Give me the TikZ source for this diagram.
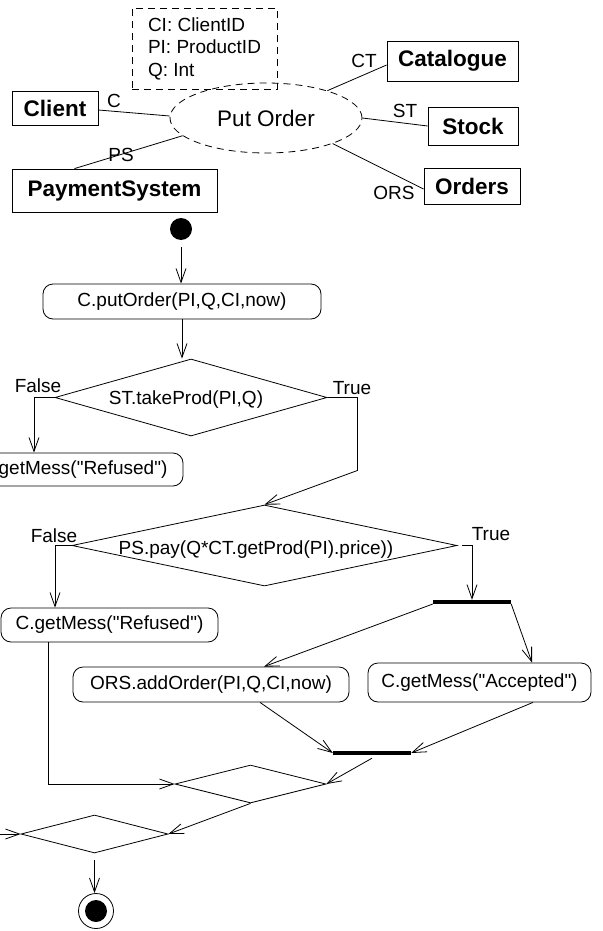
\documentclass[tikz,border=0pt]{standalone}
\usepackage{fontspec}
\setmainfont{Liberation Sans}[Ligatures=TeXOff]
\usetikzlibrary{shapes.geometric,arrows.meta}
\tikzset{
 ln/.style={line width=0.8pt},
 arr/.style={ln, -{Straight Barb[length=14pt,width=10pt,line width=0.8pt]}},
 nf/.style={font=\fontsize{19}{22.5}\selectfont},
 bf/.style={font=\fontsize{22.5}{26}\selectfont\bfseries},
 cls/.style={draw, ln, rectangle, inner sep=0pt, bf},
 act/.style={draw, ln, rectangle, rounded corners=10pt, inner sep=0pt, nf},
 dec/.style={draw, ln, diamond, inner sep=0pt, nf},
 barnode/.style={fill=black, draw=none, rectangle, inner sep=0pt, minimum height=4pt},
 lbl/.style={nf, inner sep=0pt},
 dsh/.style={dash pattern=on 7pt off 5pt},
}
\begin{document}
\begin{tikzpicture}[x=1pt,y=-1pt]
\useasboundingbox (0,0) rectangle (602,931);
\clip (0,0) rectangle (602,931);
% ---- use case part ----
\node[draw, ln, dsh, rectangle, minimum width=145pt, minimum height=81pt, align=left, nf, inner sep=0pt] (vars) at (204.5,48.5) {CI: ClientID\\PI: ProductID\\Q: Int};
\node[draw, ln, dsh, ellipse, minimum width=192pt, minimum height=70pt, inner sep=0pt, font=\fontsize{22.5}{26}\selectfont] (uc) at (266,118) {Put Order};
\node[cls, minimum width=86pt, minimum height=34pt] (client) at (55,108) {Client};
\node[cls, minimum width=205pt, minimum height=43pt] (ps) at (114.5,190.5) {PaymentSystem};
\node[cls, minimum width=131pt, minimum height=40pt] (cat) at (452.5,61) {Catalogue};
\node[cls, minimum width=90pt, minimum height=38pt] (stock) at (473,126) {Stock};
\node[cls, minimum width=96pt, minimum height=36pt] (orders) at (472,186) {Orders};
\draw[ln] ([yshift=-2pt]client.east) -- ([yshift=2pt]uc.west);
\draw[ln] ([xshift=-40pt]ps.north) -- (uc.192);
\draw[ln] ([yshift=-4pt]cat.west) -- (uc.24);
\draw[ln] (uc.east) -- (stock.west);
\draw[ln] (uc.-21) -- ([yshift=-3pt]orders.west);
\node[lbl] (lc) at (114,101) {C};
\node[lbl] (lps) at (121,155) {PS};
\node[lbl] (lct) at (364,61) {CT};
\node[lbl] (lst) at (405,111) {ST};
\node[lbl] (lors) at (394,193) {ORS};
% ---- activity part ----
\node[circle, fill=black, minimum size=22pt, inner sep=0pt] (init) at (181,229) {};
\node[act, minimum width=278pt, minimum height=35pt] (put) at (182,301.5) {C.putOrder(PI,Q,CI,now)};
\node[dec, minimum width=272pt, minimum height=77pt] (d1) at (191,397.5) {};
\node[lbl] (t1) at (186,400) {ST.takeProd(PI,Q)};
\node[act, minimum width=219pt, minimum height=33pt] (ref1) at (73.5,469.5) {C.getMess("Refused")};
\node[dec, minimum width=385pt, minimum height=81pt] (d2) at (264.5,545.5) {};
\node[lbl] (t2) at (256,550) {PS.pay(Q*CT.getProd(PI).price))};
\node[act, minimum width=217pt, minimum height=34pt] (ref2) at (109.5,625) {C.getMess("Refused")};
\node[barnode, minimum width=78pt] (bar1) at (472,602) {};
\node[act, minimum width=276pt, minimum height=35pt] (ors) at (211,684.5) {ORS.addOrder(PI,Q,CI,now)};
\node[act, minimum width=223pt, minimum height=39pt] (acc) at (479.5,682.5) {C.getMess("Accepted")};
\node[barnode, minimum width=78pt] (bar2) at (372,753) {};
\node[dec, minimum width=151pt, minimum height=38pt] (d3) at (250.5,784) {};
\node[dec, minimum width=147pt, minimum height=38pt] (d4) at (94.5,834) {};
\node[circle, draw, ln, minimum size=35pt, inner sep=0pt] (fin) at (96,911) {};
\fill (fin.center) circle (11pt);
% labels
\node[lbl] (f1) at (38,386) {False};
\node[lbl] (tr1) at (352,388) {True};
\node[lbl] (f2) at (54,536) {False};
\node[lbl] (tr2) at (491,534) {True};
% connectors
\draw[arr, shorten <=7pt] (init.south) -- (init.south |- put.north);
\draw[arr] (put.south) -- (put.south |- d1.north);
\draw[arr] (d1.west) -| ([xshift=-39.5pt]ref1.north);
\draw[arr] (d1.east) -- ++(30,0) -- ++(0,73) -- (d2.north);
\draw[arr] (d2.west) -| ([xshift=-54.5pt]ref2.north);
\draw[arr] ([xshift=5pt]d2.east) -| (bar1.north);
\draw[arr] ([yshift=-2pt]bar1.west) -- ([xshift=53pt]ors.north);
\draw[arr] ([yshift=-2pt]bar1.east) -- ([xshift=52.5pt]acc.north);
\draw[arr] ([xshift=49pt]ors.south) -- (bar2.west);
\draw[arr] ([xshift=53.5pt]acc.south) -- (bar2.east);
\draw[arr] ([yshift=-3pt]bar2.south) -- (d3.east);
\draw[arr] ([xshift=-61.5pt]ref2.south) |- (d3.west);
\draw[arr] (d3.south) -- (d4.east);
\draw[arr] (ref1.west) -- ++(-20,0) |- (d4.west);
\draw[arr, shorten <=7pt] (d4.south) -- (d4.south |- fin.north);
\end{tikzpicture}
\end{document}
